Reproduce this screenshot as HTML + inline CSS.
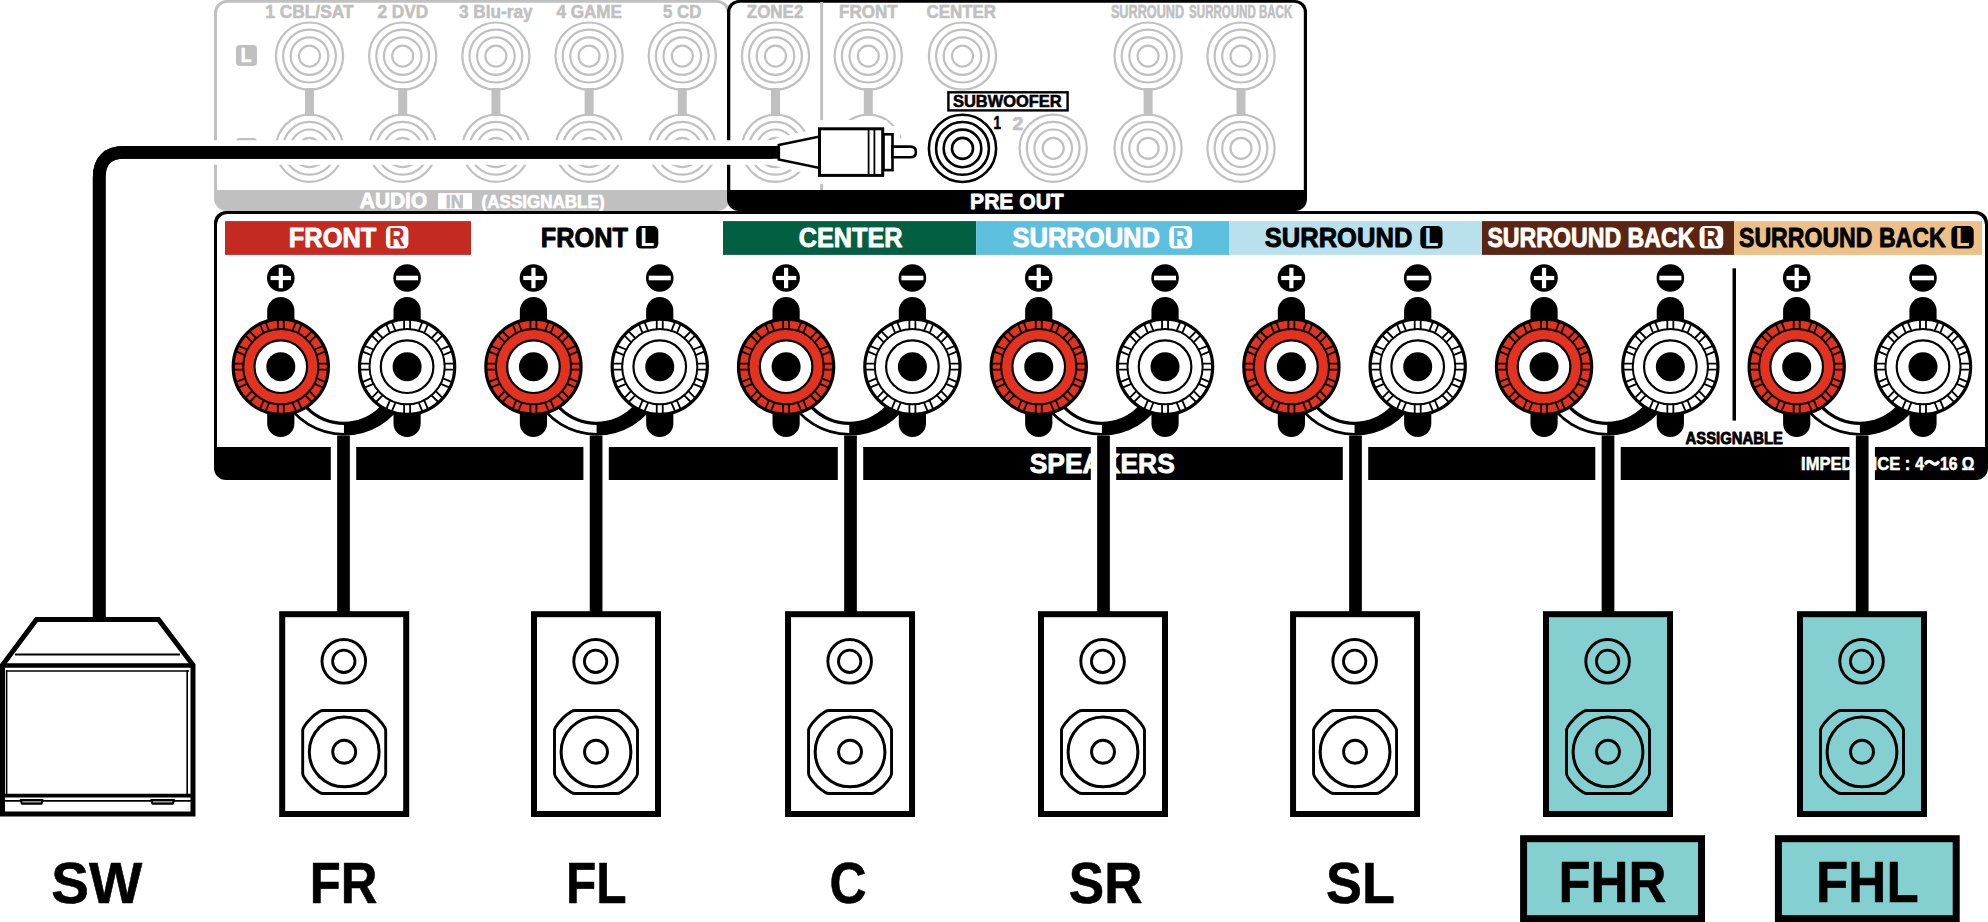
<!DOCTYPE html>
<html><head><meta charset="utf-8"><style>
html,body{margin:0;padding:0;background:#fff;}
body{width:1988px;height:922px;overflow:hidden;}
svg{display:block;}
</style></head><body>
<svg width="1988" height="922" viewBox="0 0 1988 922">
<rect x="214" y="0" width="516" height="211" rx="13" fill="#c0c0c0"/>
<path d="M217,190 V13.2 A10.5,10.5 0 0 1 227.5,2.7 H716.5 A10.5,10.5 0 0 1 727,13.2 V190 Z" fill="#fff"/>
<rect x="305.0" y="88" width="9" height="28" fill="#c0c0c0"/>
<circle cx="309.5" cy="56.1" r="33.6" fill="none" stroke="#c0c0c0" stroke-width="2.2"/>
<circle cx="309.5" cy="56.1" r="26.4" fill="none" stroke="#c0c0c0" stroke-width="2.2"/>
<circle cx="309.5" cy="56.1" r="18.8" fill="none" stroke="#c0c0c0" stroke-width="2.2"/>
<circle cx="309.5" cy="56.1" r="10.5" fill="none" stroke="#c0c0c0" stroke-width="2.2"/>
<circle cx="309.5" cy="148.3" r="33.6" fill="none" stroke="#c0c0c0" stroke-width="2.2"/>
<circle cx="309.5" cy="148.3" r="26.4" fill="none" stroke="#c0c0c0" stroke-width="2.2"/>
<circle cx="309.5" cy="148.3" r="18.8" fill="none" stroke="#c0c0c0" stroke-width="2.2"/>
<circle cx="309.5" cy="148.3" r="10.5" fill="none" stroke="#c0c0c0" stroke-width="2.2"/>
<rect x="398.2" y="88" width="9" height="28" fill="#c0c0c0"/>
<circle cx="402.7" cy="56.1" r="33.6" fill="none" stroke="#c0c0c0" stroke-width="2.2"/>
<circle cx="402.7" cy="56.1" r="26.4" fill="none" stroke="#c0c0c0" stroke-width="2.2"/>
<circle cx="402.7" cy="56.1" r="18.8" fill="none" stroke="#c0c0c0" stroke-width="2.2"/>
<circle cx="402.7" cy="56.1" r="10.5" fill="none" stroke="#c0c0c0" stroke-width="2.2"/>
<circle cx="402.7" cy="148.3" r="33.6" fill="none" stroke="#c0c0c0" stroke-width="2.2"/>
<circle cx="402.7" cy="148.3" r="26.4" fill="none" stroke="#c0c0c0" stroke-width="2.2"/>
<circle cx="402.7" cy="148.3" r="18.8" fill="none" stroke="#c0c0c0" stroke-width="2.2"/>
<circle cx="402.7" cy="148.3" r="10.5" fill="none" stroke="#c0c0c0" stroke-width="2.2"/>
<rect x="491.4" y="88" width="9" height="28" fill="#c0c0c0"/>
<circle cx="495.9" cy="56.1" r="33.6" fill="none" stroke="#c0c0c0" stroke-width="2.2"/>
<circle cx="495.9" cy="56.1" r="26.4" fill="none" stroke="#c0c0c0" stroke-width="2.2"/>
<circle cx="495.9" cy="56.1" r="18.8" fill="none" stroke="#c0c0c0" stroke-width="2.2"/>
<circle cx="495.9" cy="56.1" r="10.5" fill="none" stroke="#c0c0c0" stroke-width="2.2"/>
<circle cx="495.9" cy="148.3" r="33.6" fill="none" stroke="#c0c0c0" stroke-width="2.2"/>
<circle cx="495.9" cy="148.3" r="26.4" fill="none" stroke="#c0c0c0" stroke-width="2.2"/>
<circle cx="495.9" cy="148.3" r="18.8" fill="none" stroke="#c0c0c0" stroke-width="2.2"/>
<circle cx="495.9" cy="148.3" r="10.5" fill="none" stroke="#c0c0c0" stroke-width="2.2"/>
<rect x="584.6" y="88" width="9" height="28" fill="#c0c0c0"/>
<circle cx="589.1" cy="56.1" r="33.6" fill="none" stroke="#c0c0c0" stroke-width="2.2"/>
<circle cx="589.1" cy="56.1" r="26.4" fill="none" stroke="#c0c0c0" stroke-width="2.2"/>
<circle cx="589.1" cy="56.1" r="18.8" fill="none" stroke="#c0c0c0" stroke-width="2.2"/>
<circle cx="589.1" cy="56.1" r="10.5" fill="none" stroke="#c0c0c0" stroke-width="2.2"/>
<circle cx="589.1" cy="148.3" r="33.6" fill="none" stroke="#c0c0c0" stroke-width="2.2"/>
<circle cx="589.1" cy="148.3" r="26.4" fill="none" stroke="#c0c0c0" stroke-width="2.2"/>
<circle cx="589.1" cy="148.3" r="18.8" fill="none" stroke="#c0c0c0" stroke-width="2.2"/>
<circle cx="589.1" cy="148.3" r="10.5" fill="none" stroke="#c0c0c0" stroke-width="2.2"/>
<rect x="677.8" y="88" width="9" height="28" fill="#c0c0c0"/>
<circle cx="682.3" cy="56.1" r="33.6" fill="none" stroke="#c0c0c0" stroke-width="2.2"/>
<circle cx="682.3" cy="56.1" r="26.4" fill="none" stroke="#c0c0c0" stroke-width="2.2"/>
<circle cx="682.3" cy="56.1" r="18.8" fill="none" stroke="#c0c0c0" stroke-width="2.2"/>
<circle cx="682.3" cy="56.1" r="10.5" fill="none" stroke="#c0c0c0" stroke-width="2.2"/>
<circle cx="682.3" cy="148.3" r="33.6" fill="none" stroke="#c0c0c0" stroke-width="2.2"/>
<circle cx="682.3" cy="148.3" r="26.4" fill="none" stroke="#c0c0c0" stroke-width="2.2"/>
<circle cx="682.3" cy="148.3" r="18.8" fill="none" stroke="#c0c0c0" stroke-width="2.2"/>
<circle cx="682.3" cy="148.3" r="10.5" fill="none" stroke="#c0c0c0" stroke-width="2.2"/>
<text x="265.22" y="17.60" font-size="18.84" fill="#c0c0c0" stroke="#c0c0c0" stroke-width="0.6" stroke-linejoin="round" textLength="88.31" lengthAdjust="spacingAndGlyphs" font-family="Liberation Sans, sans-serif" font-weight="bold">1 CBL/SAT</text>
<text x="377.46" y="17.70" font-size="19.13" fill="#c0c0c0" stroke="#c0c0c0" stroke-width="0.6" stroke-linejoin="round" textLength="50.74" lengthAdjust="spacingAndGlyphs" font-family="Liberation Sans, sans-serif" font-weight="bold">2 DVD</text>
<text x="458.93" y="17.70" font-size="19.13" fill="#c0c0c0" stroke="#c0c0c0" stroke-width="0.6" stroke-linejoin="round" textLength="73.66" lengthAdjust="spacingAndGlyphs" font-family="Liberation Sans, sans-serif" font-weight="bold">3 Blu-ray</text>
<text x="556.40" y="17.70" font-size="19.13" fill="#c0c0c0" stroke="#c0c0c0" stroke-width="0.6" stroke-linejoin="round" textLength="65.65" lengthAdjust="spacingAndGlyphs" font-family="Liberation Sans, sans-serif" font-weight="bold">4 GAME</text>
<text x="663.04" y="17.70" font-size="19.13" fill="#c0c0c0" stroke="#c0c0c0" stroke-width="0.6" stroke-linejoin="round" textLength="38.24" lengthAdjust="spacingAndGlyphs" font-family="Liberation Sans, sans-serif" font-weight="bold">5 CD</text>
<rect x="236" y="45" width="21" height="21" rx="4" fill="#c0c0c0"/>
<text x="240.69" y="62.20" font-size="19.42" fill="#fff" stroke="#fff" stroke-width="0.6" stroke-linejoin="round" textLength="10.81" lengthAdjust="spacingAndGlyphs" font-family="Liberation Sans, sans-serif" font-weight="bold">L</text>
<rect x="236" y="138" width="21" height="21" rx="4" fill="#c0c0c0"/>
<text x="359.87" y="208.30" font-size="21.16" fill="#fff" stroke="#fff" stroke-width="0.8" stroke-linejoin="round" textLength="67.31" lengthAdjust="spacingAndGlyphs" font-family="Liberation Sans, sans-serif" font-weight="bold">AUDIO</text>
<rect x="438" y="193.1" width="34" height="16" fill="#fff"/>
<text x="445.83" y="207.55" font-size="18.70" fill="#c0c0c0" stroke="#c0c0c0" stroke-width="0.7" stroke-linejoin="round" textLength="17.90" lengthAdjust="spacingAndGlyphs" font-family="Liberation Sans, sans-serif" font-weight="bold">IN</text>
<text x="481.55" y="207.95" font-size="17.83" fill="#fff" stroke="#fff" stroke-width="0.7" stroke-linejoin="round" textLength="123.01" lengthAdjust="spacingAndGlyphs" font-family="Liberation Sans, sans-serif" font-weight="bold">(ASSIGNABLE)</text>
<rect x="727" y="0" width="580" height="211" rx="12" fill="#000"/>
<path d="M730.3,190 V12 A9.3,9.3 0 0 1 739.6,2.7 H1294.5 A9.3,9.3 0 0 1 1303.8,12 V190 Z" fill="#fff"/>
<rect x="820.2" y="2" width="2.9" height="188" fill="#c0c0c0"/>
<rect x="771.0" y="88" width="9" height="28" fill="#c0c0c0"/>
<rect x="863.8" y="88" width="9" height="28" fill="#c0c0c0"/>
<rect x="1143.6" y="88" width="9" height="28" fill="#c0c0c0"/>
<rect x="1236.5" y="88" width="9" height="28" fill="#c0c0c0"/>
<circle cx="775.5" cy="56.1" r="33.6" fill="none" stroke="#c0c0c0" stroke-width="2.2"/>
<circle cx="775.5" cy="56.1" r="26.4" fill="none" stroke="#c0c0c0" stroke-width="2.2"/>
<circle cx="775.5" cy="56.1" r="18.8" fill="none" stroke="#c0c0c0" stroke-width="2.2"/>
<circle cx="775.5" cy="56.1" r="10.5" fill="none" stroke="#c0c0c0" stroke-width="2.2"/>
<circle cx="868.3" cy="56.1" r="33.6" fill="none" stroke="#c0c0c0" stroke-width="2.2"/>
<circle cx="868.3" cy="56.1" r="26.4" fill="none" stroke="#c0c0c0" stroke-width="2.2"/>
<circle cx="868.3" cy="56.1" r="18.8" fill="none" stroke="#c0c0c0" stroke-width="2.2"/>
<circle cx="868.3" cy="56.1" r="10.5" fill="none" stroke="#c0c0c0" stroke-width="2.2"/>
<circle cx="962.5" cy="56.1" r="33.6" fill="none" stroke="#c0c0c0" stroke-width="2.2"/>
<circle cx="962.5" cy="56.1" r="26.4" fill="none" stroke="#c0c0c0" stroke-width="2.2"/>
<circle cx="962.5" cy="56.1" r="18.8" fill="none" stroke="#c0c0c0" stroke-width="2.2"/>
<circle cx="962.5" cy="56.1" r="10.5" fill="none" stroke="#c0c0c0" stroke-width="2.2"/>
<circle cx="1148.1" cy="56.1" r="33.6" fill="none" stroke="#c0c0c0" stroke-width="2.2"/>
<circle cx="1148.1" cy="56.1" r="26.4" fill="none" stroke="#c0c0c0" stroke-width="2.2"/>
<circle cx="1148.1" cy="56.1" r="18.8" fill="none" stroke="#c0c0c0" stroke-width="2.2"/>
<circle cx="1148.1" cy="56.1" r="10.5" fill="none" stroke="#c0c0c0" stroke-width="2.2"/>
<circle cx="1241" cy="56.1" r="33.6" fill="none" stroke="#c0c0c0" stroke-width="2.2"/>
<circle cx="1241" cy="56.1" r="26.4" fill="none" stroke="#c0c0c0" stroke-width="2.2"/>
<circle cx="1241" cy="56.1" r="18.8" fill="none" stroke="#c0c0c0" stroke-width="2.2"/>
<circle cx="1241" cy="56.1" r="10.5" fill="none" stroke="#c0c0c0" stroke-width="2.2"/>
<circle cx="775.5" cy="148.3" r="33.6" fill="none" stroke="#c0c0c0" stroke-width="2.2"/>
<circle cx="775.5" cy="148.3" r="26.4" fill="none" stroke="#c0c0c0" stroke-width="2.2"/>
<circle cx="775.5" cy="148.3" r="18.8" fill="none" stroke="#c0c0c0" stroke-width="2.2"/>
<circle cx="775.5" cy="148.3" r="10.5" fill="none" stroke="#c0c0c0" stroke-width="2.2"/>
<circle cx="868.3" cy="148.3" r="33.6" fill="none" stroke="#c0c0c0" stroke-width="2.2"/>
<circle cx="868.3" cy="148.3" r="26.4" fill="none" stroke="#c0c0c0" stroke-width="2.2"/>
<circle cx="868.3" cy="148.3" r="18.8" fill="none" stroke="#c0c0c0" stroke-width="2.2"/>
<circle cx="868.3" cy="148.3" r="10.5" fill="none" stroke="#c0c0c0" stroke-width="2.2"/>
<circle cx="1053.2" cy="148.3" r="33.6" fill="none" stroke="#c0c0c0" stroke-width="2.2"/>
<circle cx="1053.2" cy="148.3" r="26.4" fill="none" stroke="#c0c0c0" stroke-width="2.2"/>
<circle cx="1053.2" cy="148.3" r="18.8" fill="none" stroke="#c0c0c0" stroke-width="2.2"/>
<circle cx="1053.2" cy="148.3" r="10.5" fill="none" stroke="#c0c0c0" stroke-width="2.2"/>
<circle cx="1148.1" cy="148.3" r="33.6" fill="none" stroke="#c0c0c0" stroke-width="2.2"/>
<circle cx="1148.1" cy="148.3" r="26.4" fill="none" stroke="#c0c0c0" stroke-width="2.2"/>
<circle cx="1148.1" cy="148.3" r="18.8" fill="none" stroke="#c0c0c0" stroke-width="2.2"/>
<circle cx="1148.1" cy="148.3" r="10.5" fill="none" stroke="#c0c0c0" stroke-width="2.2"/>
<circle cx="1241" cy="148.3" r="33.6" fill="none" stroke="#c0c0c0" stroke-width="2.2"/>
<circle cx="1241" cy="148.3" r="26.4" fill="none" stroke="#c0c0c0" stroke-width="2.2"/>
<circle cx="1241" cy="148.3" r="18.8" fill="none" stroke="#c0c0c0" stroke-width="2.2"/>
<circle cx="1241" cy="148.3" r="10.5" fill="none" stroke="#c0c0c0" stroke-width="2.2"/>
<text x="746.84" y="17.70" font-size="18.55" fill="#c0c0c0" stroke="#c0c0c0" stroke-width="0.6" stroke-linejoin="round" textLength="56.49" lengthAdjust="spacingAndGlyphs" font-family="Liberation Sans, sans-serif" font-weight="bold">ZONE2</text>
<text x="839.04" y="17.70" font-size="18.55" fill="#c0c0c0" stroke="#c0c0c0" stroke-width="0.6" stroke-linejoin="round" textLength="58.49" lengthAdjust="spacingAndGlyphs" font-family="Liberation Sans, sans-serif" font-weight="bold">FRONT</text>
<text x="926.47" y="17.70" font-size="18.55" fill="#c0c0c0" stroke="#c0c0c0" stroke-width="0.6" stroke-linejoin="round" textLength="69.55" lengthAdjust="spacingAndGlyphs" font-family="Liberation Sans, sans-serif" font-weight="bold">CENTER</text>
<text x="1110.90" y="17.60" font-size="17.54" fill="#c0c0c0" stroke="#c0c0c0" stroke-width="0.6" stroke-linejoin="round" textLength="73.24" lengthAdjust="spacingAndGlyphs" font-family="Liberation Sans, sans-serif" font-weight="bold">SURROUND</text>
<text x="1189.12" y="17.60" font-size="17.54" fill="#c0c0c0" stroke="#c0c0c0" stroke-width="0.6" stroke-linejoin="round" textLength="103.12" lengthAdjust="spacingAndGlyphs" font-family="Liberation Sans, sans-serif" font-weight="bold">SURROUND BACK</text>
<rect x="948.4" y="92.3" width="119.2" height="18.1" fill="#fff" stroke="#000" stroke-width="2.4"/>
<text x="953.04" y="107.00" font-size="16.96" fill="#000" stroke="#000" stroke-width="0.6" stroke-linejoin="round" textLength="108.67" lengthAdjust="spacingAndGlyphs" font-family="Liberation Sans, sans-serif" font-weight="bold">SUBWOOFER</text>
<text x="993.46" y="129.30" font-size="18.26" fill="#000" stroke="#000" stroke-width="0.6" stroke-linejoin="round" textLength="7.47" lengthAdjust="spacingAndGlyphs" font-family="Liberation Sans, sans-serif" font-weight="bold">1</text>
<text x="1012.59" y="129.50" font-size="17.97" fill="#c0c0c0" stroke="#c0c0c0" stroke-width="0.6" stroke-linejoin="round" textLength="10.90" lengthAdjust="spacingAndGlyphs" font-family="Liberation Sans, sans-serif" font-weight="bold">2</text>
<text x="970.08" y="208.50" font-size="21.59" fill="#fff" stroke="#fff" stroke-width="0.8" stroke-linejoin="round" textLength="93.65" lengthAdjust="spacingAndGlyphs" font-family="Liberation Sans, sans-serif" font-weight="bold">PRE OUT</text>
<path d="M99.2,640 V177.4 Q99.2,152.4 124.2,152.4 H790" fill="none" stroke="#fff" stroke-width="24.5"/>
<path d="M99.2,640 V177.4 Q99.2,152.4 124.2,152.4 H790" fill="none" stroke="#000" stroke-width="12.7"/>
<path d="M777.6,143 L818,133.5 V125 H884 V131 H895 V143.5 H912 Q921,143.5 921,152 Q921,160.5 912,160.5 H895 V173 H884 V179 H818 V171 L777.6,161.5 Z" fill="#fff" stroke="#fff" stroke-width="10" stroke-linejoin="round"/>
<path d="M99.2,640 V177.4 Q99.2,152.4 124.2,152.4 H790" fill="none" stroke="#000" stroke-width="12.7"/>
<path d="M778.8,145 L819.5,136.5 V168 L778.8,159.5 Z" fill="#fff" stroke="#000" stroke-width="2.6" stroke-linejoin="miter"/>
<rect x="883.5" y="134.3" width="9" height="35.8" fill="#fff" stroke="#000" stroke-width="2.6"/>
<path d="M892.5,146.6 H910.5 Q915.9,146.6 915.9,151.9 Q915.9,157.2 910.5,157.2 H892.5 Z" fill="#fff" stroke="#000" stroke-width="2.6"/>
<rect x="819.5" y="128.8" width="63.2" height="46.6" fill="#fff" stroke="#000" stroke-width="3"/>
<line x1="868.6" y1="128.8" x2="868.6" y2="175.4" stroke="#000" stroke-width="1.8"/>
<line x1="874.4" y1="128.8" x2="874.4" y2="175.4" stroke="#000" stroke-width="1.8"/>
<circle cx="962.5" cy="148.4" r="33.6" fill="none" stroke="#000" stroke-width="2.6"/>
<circle cx="962.5" cy="148.4" r="26.4" fill="none" stroke="#000" stroke-width="2.6"/>
<circle cx="962.5" cy="148.4" r="18.8" fill="none" stroke="#000" stroke-width="2.6"/>
<circle cx="962.5" cy="148.4" r="10.5" fill="none" stroke="#000" stroke-width="2.6"/>
<rect x="214" y="211" width="1774" height="269" rx="12" fill="#000"/>
<path d="M217,447 V224.5 A10.5,10.5 0 0 1 227.5,214 H1974.5 A10.5,10.5 0 0 1 1985,224.5 V447 Z" fill="#fff"/>
<rect x="225" y="221.1" width="246" height="33.8" fill="#c42a21"/>
<rect x="723" y="221.1" width="253.20000000000005" height="33.8" fill="#035f42"/>
<rect x="976.2" y="221.1" width="252.79999999999995" height="33.8" fill="#5bbfdd"/>
<rect x="1229" y="221.1" width="253" height="33.8" fill="#b9e1ed"/>
<rect x="1482" y="221.1" width="252" height="33.8" fill="#5a2613"/>
<rect x="1734" y="221.1" width="248" height="33.8" fill="#edc08a"/>
<text x="288.86" y="246.85" font-size="27.25" fill="#fff" stroke="#fff" stroke-width="0.9" stroke-linejoin="round" textLength="87.42" lengthAdjust="spacingAndGlyphs" font-family="Liberation Sans, sans-serif" font-weight="bold">FRONT</text>
<rect x="385.9" y="226.1" width="22.5" height="22.5" rx="5" fill="#fff"/>
<text x="389.10" y="245.90" font-size="25.65" fill="#c42a21" stroke="#c42a21" stroke-width="0.2" stroke-linejoin="round" textLength="15.56" lengthAdjust="spacingAndGlyphs" font-family="Liberation Sans, sans-serif" font-weight="bold">R</text>
<text x="540.77" y="246.85" font-size="27.25" fill="#000" stroke="#000" stroke-width="0.9" stroke-linejoin="round" textLength="87.22" lengthAdjust="spacingAndGlyphs" font-family="Liberation Sans, sans-serif" font-weight="bold">FRONT</text>
<rect x="636.2" y="226.1" width="22.09999999999991" height="22.5" rx="5" fill="#000"/>
<text x="640.55" y="245.90" font-size="25.65" fill="#fff" stroke="#fff" stroke-width="0.2" stroke-linejoin="round" textLength="13.68" lengthAdjust="spacingAndGlyphs" font-family="Liberation Sans, sans-serif" font-weight="bold">L</text>
<text x="798.76" y="246.85" font-size="27.25" fill="#fff" stroke="#fff" stroke-width="0.9" stroke-linejoin="round" textLength="103.77" lengthAdjust="spacingAndGlyphs" font-family="Liberation Sans, sans-serif" font-weight="bold">CENTER</text>
<text x="1012.45" y="246.85" font-size="27.25" fill="#fff" stroke="#fff" stroke-width="0.9" stroke-linejoin="round" textLength="147.58" lengthAdjust="spacingAndGlyphs" font-family="Liberation Sans, sans-serif" font-weight="bold">SURROUND</text>
<rect x="1169.2" y="226.1" width="22.899999999999864" height="22.5" rx="5" fill="#fff"/>
<text x="1172.60" y="245.90" font-size="25.65" fill="#5bbfdd" stroke="#5bbfdd" stroke-width="0.2" stroke-linejoin="round" textLength="15.56" lengthAdjust="spacingAndGlyphs" font-family="Liberation Sans, sans-serif" font-weight="bold">R</text>
<text x="1264.75" y="246.85" font-size="27.25" fill="#000" stroke="#000" stroke-width="0.9" stroke-linejoin="round" textLength="147.58" lengthAdjust="spacingAndGlyphs" font-family="Liberation Sans, sans-serif" font-weight="bold">SURROUND</text>
<rect x="1420.3" y="226.1" width="22.200000000000045" height="22.5" rx="5" fill="#000"/>
<text x="1424.70" y="245.90" font-size="25.65" fill="#b9e1ed" stroke="#b9e1ed" stroke-width="0.2" stroke-linejoin="round" textLength="13.68" lengthAdjust="spacingAndGlyphs" font-family="Liberation Sans, sans-serif" font-weight="bold">L</text>
<text x="1487.39" y="246.85" font-size="27.25" fill="#fff" stroke="#fff" stroke-width="0.9" stroke-linejoin="round" textLength="207.14" lengthAdjust="spacingAndGlyphs" font-family="Liberation Sans, sans-serif" font-weight="bold">SURROUND BACK</text>
<rect x="1699.6" y="226.1" width="23.600000000000136" height="22.5" rx="5" fill="#fff"/>
<text x="1703.35" y="245.90" font-size="25.65" fill="#5a2613" stroke="#5a2613" stroke-width="0.2" stroke-linejoin="round" textLength="15.56" lengthAdjust="spacingAndGlyphs" font-family="Liberation Sans, sans-serif" font-weight="bold">R</text>
<text x="1738.99" y="246.85" font-size="27.25" fill="#000" stroke="#000" stroke-width="0.9" stroke-linejoin="round" textLength="206.64" lengthAdjust="spacingAndGlyphs" font-family="Liberation Sans, sans-serif" font-weight="bold">SURROUND BACK</text>
<rect x="1951.4" y="226.1" width="22.299999999999955" height="22.5" rx="5" fill="#000"/>
<text x="1955.85" y="245.90" font-size="25.65" fill="#edc08a" stroke="#edc08a" stroke-width="0.2" stroke-linejoin="round" textLength="13.68" lengthAdjust="spacingAndGlyphs" font-family="Liberation Sans, sans-serif" font-weight="bold">L</text>
<text x="1029.74" y="472.85" font-size="27.83" fill="#fff" stroke="#fff" stroke-width="0.9" stroke-linejoin="round" textLength="145.01" lengthAdjust="spacingAndGlyphs" font-family="Liberation Sans, sans-serif" font-weight="bold">SPEAKERS</text>
<text x="1801.07" y="469.50" font-size="18.70" fill="#fff" stroke="#fff" stroke-width="0.6" stroke-linejoin="round" textLength="109.20" lengthAdjust="spacingAndGlyphs" font-family="Liberation Sans, sans-serif" font-weight="bold">IMPEDANCE :</text>
<text x="1915.30" y="469.50" font-size="18.70" fill="#fff" stroke="#fff" stroke-width="0.6" stroke-linejoin="round" textLength="58.97" lengthAdjust="spacingAndGlyphs" font-family="Liberation Sans, sans-serif" font-weight="bold">4〜16 Ω</text>
<rect x="330.8" y="440" width="25.4" height="45" fill="#fff"/>
<rect x="583.4" y="440" width="25.4" height="45" fill="#fff"/>
<rect x="837.8" y="440" width="25.4" height="45" fill="#fff"/>
<rect x="1090.8" y="440" width="25.4" height="45" fill="#fff"/>
<rect x="1342.8" y="440" width="25.4" height="45" fill="#fff"/>
<rect x="1595.3" y="440" width="25.4" height="45" fill="#fff"/>
<rect x="1849.5" y="440" width="25.4" height="45" fill="#fff"/>
<rect x="1732.5" y="268.3" width="3.5" height="152.3" fill="#000"/>
<text x="1685.59" y="444.27" font-size="17.17" fill="#000" stroke="#000" stroke-width="0.85" stroke-linejoin="round" textLength="97.37" lengthAdjust="spacingAndGlyphs" font-family="Liberation Sans, sans-serif" font-weight="bold">ASSIGNABLE</text>
<path d="M281.95,398.10 A70.0,70.0 0 0 0 405.95,398.10 L393.95,371.80 A50.0,50.0 0 0 1 293.95,371.80 Z" fill="#000"/>
<path d="M343.95,432.90 A67.3,67.3 0 0 1 283.95,396.08 L290.75,371.80 A53.2,53.2 0 0 0 343.95,425.00 Z" fill="#fff"/>
<rect x="267.2" y="297" width="27.2" height="140" rx="13.6" fill="#000"/>
<circle cx="280.8" cy="366.7" r="47.6" fill="#e3321f" stroke="#000" stroke-width="3.2"/>
<path d="M318.40,363.70L328.80,363.70M318.40,369.70L328.80,369.70M316.69,378.32L326.29,382.30M314.39,383.86L324.00,387.84M309.51,391.17L316.86,398.52M305.27,395.41L312.62,402.76M297.96,400.29L301.94,409.90M292.42,402.59L296.40,412.19M283.80,404.30L283.80,414.70M277.80,404.30L277.80,414.70M269.18,402.59L265.20,412.19M263.64,400.29L259.66,409.90M256.33,395.41L248.98,402.76M252.09,391.17L244.74,398.52M247.21,383.86L237.60,387.84M244.91,378.32L235.31,382.30M243.20,369.70L232.80,369.70M243.20,363.70L232.80,363.70M244.91,355.08L235.31,351.10M247.21,349.54L237.60,345.56M252.09,342.23L244.74,334.88M256.33,337.99L248.98,330.64M263.64,333.11L259.66,323.50M269.18,330.81L265.20,321.21M277.80,329.10L277.80,318.70M283.80,329.10L283.80,318.70M292.42,330.81L296.40,321.21M297.96,333.11L301.94,323.50M305.27,337.99L312.62,330.64M309.51,342.23L316.86,334.88M314.39,349.54L324.00,345.56M316.69,355.08L326.29,351.10" stroke="#000" stroke-width="1.8" fill="none"/>
<circle cx="280.8" cy="366.7" r="37.6" fill="#e3321f" stroke="#000" stroke-width="2.0"/>
<circle cx="280.8" cy="366.7" r="26.3" fill="#fff" stroke="#000" stroke-width="2.2"/>
<circle cx="280.8" cy="366.7" r="14.5" fill="#000"/>
<rect x="393.5" y="297" width="27.2" height="140" rx="13.6" fill="#000"/>
<circle cx="407.1" cy="366.7" r="47.6" fill="#fff" stroke="#000" stroke-width="3.2"/>
<path d="M444.70,363.70L455.10,363.70M444.70,369.70L455.10,369.70M442.99,378.32L452.59,382.30M440.69,383.86L450.30,387.84M435.81,391.17L443.16,398.52M431.57,395.41L438.92,402.76M424.26,400.29L428.24,409.90M418.72,402.59L422.70,412.19M410.10,404.30L410.10,414.70M404.10,404.30L404.10,414.70M395.48,402.59L391.50,412.19M389.94,400.29L385.96,409.90M382.63,395.41L375.28,402.76M378.39,391.17L371.04,398.52M373.51,383.86L363.90,387.84M371.21,378.32L361.61,382.30M369.50,369.70L359.10,369.70M369.50,363.70L359.10,363.70M371.21,355.08L361.61,351.10M373.51,349.54L363.90,345.56M378.39,342.23L371.04,334.88M382.63,337.99L375.28,330.64M389.94,333.11L385.96,323.50M395.48,330.81L391.50,321.21M404.10,329.10L404.10,318.70M410.10,329.10L410.10,318.70M418.72,330.81L422.70,321.21M424.26,333.11L428.24,323.50M431.57,337.99L438.92,330.64M435.81,342.23L443.16,334.88M440.69,349.54L450.30,345.56M442.99,355.08L452.59,351.10" stroke="#000" stroke-width="1.8" fill="none"/>
<circle cx="407.1" cy="366.7" r="37.6" fill="#fff" stroke="#000" stroke-width="2.0"/>
<circle cx="407.1" cy="366.7" r="26.3" fill="#fff" stroke="#000" stroke-width="2.2"/>
<circle cx="407.1" cy="366.7" r="14.5" fill="#000"/>
<circle cx="280.8" cy="278" r="13.8" fill="#000"/>
<rect x="270.6" y="275.9" width="20.4" height="4.2" fill="#fff"/><rect x="278.7" y="267.8" width="4.2" height="20.4" fill="#fff"/>
<circle cx="407.1" cy="278" r="13.8" fill="#000"/>
<rect x="396.1" y="275.7" width="22" height="4.6" fill="#fff"/>
<rect x="337.15" y="435.5" width="12.7" height="180" fill="#000"/>
<path d="M534.60,398.10 A70.0,70.0 0 0 0 658.60,398.10 L646.60,371.80 A50.0,50.0 0 0 1 546.60,371.80 Z" fill="#000"/>
<path d="M596.60,432.90 A67.3,67.3 0 0 1 536.60,396.08 L543.40,371.80 A53.2,53.2 0 0 0 596.60,425.00 Z" fill="#fff"/>
<rect x="519.85" y="297" width="27.2" height="140" rx="13.6" fill="#000"/>
<circle cx="533.45" cy="366.7" r="47.6" fill="#e3321f" stroke="#000" stroke-width="3.2"/>
<path d="M571.05,363.70L581.45,363.70M571.05,369.70L581.45,369.70M569.34,378.32L578.94,382.30M567.04,383.86L576.65,387.84M562.16,391.17L569.51,398.52M557.92,395.41L565.27,402.76M550.61,400.29L554.59,409.90M545.07,402.59L549.05,412.19M536.45,404.30L536.45,414.70M530.45,404.30L530.45,414.70M521.83,402.59L517.85,412.19M516.29,400.29L512.31,409.90M508.98,395.41L501.63,402.76M504.74,391.17L497.39,398.52M499.86,383.86L490.25,387.84M497.56,378.32L487.96,382.30M495.85,369.70L485.45,369.70M495.85,363.70L485.45,363.70M497.56,355.08L487.96,351.10M499.86,349.54L490.25,345.56M504.74,342.23L497.39,334.88M508.98,337.99L501.63,330.64M516.29,333.11L512.31,323.50M521.83,330.81L517.85,321.21M530.45,329.10L530.45,318.70M536.45,329.10L536.45,318.70M545.07,330.81L549.05,321.21M550.61,333.11L554.59,323.50M557.92,337.99L565.27,330.64M562.16,342.23L569.51,334.88M567.04,349.54L576.65,345.56M569.34,355.08L578.94,351.10" stroke="#000" stroke-width="1.8" fill="none"/>
<circle cx="533.45" cy="366.7" r="37.6" fill="#e3321f" stroke="#000" stroke-width="2.0"/>
<circle cx="533.45" cy="366.7" r="26.3" fill="#fff" stroke="#000" stroke-width="2.2"/>
<circle cx="533.45" cy="366.7" r="14.5" fill="#000"/>
<rect x="646.15" y="297" width="27.2" height="140" rx="13.6" fill="#000"/>
<circle cx="659.75" cy="366.7" r="47.6" fill="#fff" stroke="#000" stroke-width="3.2"/>
<path d="M697.35,363.70L707.75,363.70M697.35,369.70L707.75,369.70M695.64,378.32L705.24,382.30M693.34,383.86L702.95,387.84M688.46,391.17L695.81,398.52M684.22,395.41L691.57,402.76M676.91,400.29L680.89,409.90M671.37,402.59L675.35,412.19M662.75,404.30L662.75,414.70M656.75,404.30L656.75,414.70M648.13,402.59L644.15,412.19M642.59,400.29L638.61,409.90M635.28,395.41L627.93,402.76M631.04,391.17L623.69,398.52M626.16,383.86L616.55,387.84M623.86,378.32L614.26,382.30M622.15,369.70L611.75,369.70M622.15,363.70L611.75,363.70M623.86,355.08L614.26,351.10M626.16,349.54L616.55,345.56M631.04,342.23L623.69,334.88M635.28,337.99L627.93,330.64M642.59,333.11L638.61,323.50M648.13,330.81L644.15,321.21M656.75,329.10L656.75,318.70M662.75,329.10L662.75,318.70M671.37,330.81L675.35,321.21M676.91,333.11L680.89,323.50M684.22,337.99L691.57,330.64M688.46,342.23L695.81,334.88M693.34,349.54L702.95,345.56M695.64,355.08L705.24,351.10" stroke="#000" stroke-width="1.8" fill="none"/>
<circle cx="659.75" cy="366.7" r="37.6" fill="#fff" stroke="#000" stroke-width="2.0"/>
<circle cx="659.75" cy="366.7" r="26.3" fill="#fff" stroke="#000" stroke-width="2.2"/>
<circle cx="659.75" cy="366.7" r="14.5" fill="#000"/>
<circle cx="533.45" cy="278" r="13.8" fill="#000"/>
<rect x="523.25" y="275.9" width="20.4" height="4.2" fill="#fff"/><rect x="531.35" y="267.8" width="4.2" height="20.4" fill="#fff"/>
<circle cx="659.75" cy="278" r="13.8" fill="#000"/>
<rect x="648.75" y="275.7" width="22" height="4.6" fill="#fff"/>
<rect x="589.75" y="435.5" width="12.7" height="180" fill="#000"/>
<path d="M787.25,398.10 A70.0,70.0 0 0 0 911.25,398.10 L899.25,371.80 A50.0,50.0 0 0 1 799.25,371.80 Z" fill="#000"/>
<path d="M849.25,432.90 A67.3,67.3 0 0 1 789.25,396.08 L796.05,371.80 A53.2,53.2 0 0 0 849.25,425.00 Z" fill="#fff"/>
<rect x="772.5" y="297" width="27.2" height="140" rx="13.6" fill="#000"/>
<circle cx="786.1" cy="366.7" r="47.6" fill="#e3321f" stroke="#000" stroke-width="3.2"/>
<path d="M823.70,363.70L834.10,363.70M823.70,369.70L834.10,369.70M821.99,378.32L831.59,382.30M819.69,383.86L829.30,387.84M814.81,391.17L822.16,398.52M810.57,395.41L817.92,402.76M803.26,400.29L807.24,409.90M797.72,402.59L801.70,412.19M789.10,404.30L789.10,414.70M783.10,404.30L783.10,414.70M774.48,402.59L770.50,412.19M768.94,400.29L764.96,409.90M761.63,395.41L754.28,402.76M757.39,391.17L750.04,398.52M752.51,383.86L742.90,387.84M750.21,378.32L740.61,382.30M748.50,369.70L738.10,369.70M748.50,363.70L738.10,363.70M750.21,355.08L740.61,351.10M752.51,349.54L742.90,345.56M757.39,342.23L750.04,334.88M761.63,337.99L754.28,330.64M768.94,333.11L764.96,323.50M774.48,330.81L770.50,321.21M783.10,329.10L783.10,318.70M789.10,329.10L789.10,318.70M797.72,330.81L801.70,321.21M803.26,333.11L807.24,323.50M810.57,337.99L817.92,330.64M814.81,342.23L822.16,334.88M819.69,349.54L829.30,345.56M821.99,355.08L831.59,351.10" stroke="#000" stroke-width="1.8" fill="none"/>
<circle cx="786.1" cy="366.7" r="37.6" fill="#e3321f" stroke="#000" stroke-width="2.0"/>
<circle cx="786.1" cy="366.7" r="26.3" fill="#fff" stroke="#000" stroke-width="2.2"/>
<circle cx="786.1" cy="366.7" r="14.5" fill="#000"/>
<rect x="898.8000000000001" y="297" width="27.2" height="140" rx="13.6" fill="#000"/>
<circle cx="912.4000000000001" cy="366.7" r="47.6" fill="#fff" stroke="#000" stroke-width="3.2"/>
<path d="M950.00,363.70L960.40,363.70M950.00,369.70L960.40,369.70M948.29,378.32L957.89,382.30M945.99,383.86L955.60,387.84M941.11,391.17L948.46,398.52M936.87,395.41L944.22,402.76M929.56,400.29L933.54,409.90M924.02,402.59L928.00,412.19M915.40,404.30L915.40,414.70M909.40,404.30L909.40,414.70M900.78,402.59L896.80,412.19M895.24,400.29L891.26,409.90M887.93,395.41L880.58,402.76M883.69,391.17L876.34,398.52M878.81,383.86L869.20,387.84M876.51,378.32L866.91,382.30M874.80,369.70L864.40,369.70M874.80,363.70L864.40,363.70M876.51,355.08L866.91,351.10M878.81,349.54L869.20,345.56M883.69,342.23L876.34,334.88M887.93,337.99L880.58,330.64M895.24,333.11L891.26,323.50M900.78,330.81L896.80,321.21M909.40,329.10L909.40,318.70M915.40,329.10L915.40,318.70M924.02,330.81L928.00,321.21M929.56,333.11L933.54,323.50M936.87,337.99L944.22,330.64M941.11,342.23L948.46,334.88M945.99,349.54L955.60,345.56M948.29,355.08L957.89,351.10" stroke="#000" stroke-width="1.8" fill="none"/>
<circle cx="912.4000000000001" cy="366.7" r="37.6" fill="#fff" stroke="#000" stroke-width="2.0"/>
<circle cx="912.4000000000001" cy="366.7" r="26.3" fill="#fff" stroke="#000" stroke-width="2.2"/>
<circle cx="912.4000000000001" cy="366.7" r="14.5" fill="#000"/>
<circle cx="786.1" cy="278" r="13.8" fill="#000"/>
<rect x="775.9" y="275.9" width="20.4" height="4.2" fill="#fff"/><rect x="784.0" y="267.8" width="4.2" height="20.4" fill="#fff"/>
<circle cx="912.4000000000001" cy="278" r="13.8" fill="#000"/>
<rect x="901.4000000000001" y="275.7" width="22" height="4.6" fill="#fff"/>
<rect x="844.15" y="435.5" width="12.7" height="180" fill="#000"/>
<path d="M1039.90,398.10 A70.0,70.0 0 0 0 1163.90,398.10 L1151.90,371.80 A50.0,50.0 0 0 1 1051.90,371.80 Z" fill="#000"/>
<path d="M1101.90,432.90 A67.3,67.3 0 0 1 1041.90,396.08 L1048.70,371.80 A53.2,53.2 0 0 0 1101.90,425.00 Z" fill="#fff"/>
<rect x="1025.15" y="297" width="27.2" height="140" rx="13.6" fill="#000"/>
<circle cx="1038.75" cy="366.7" r="47.6" fill="#e3321f" stroke="#000" stroke-width="3.2"/>
<path d="M1076.35,363.70L1086.75,363.70M1076.35,369.70L1086.75,369.70M1074.64,378.32L1084.24,382.30M1072.34,383.86L1081.95,387.84M1067.46,391.17L1074.81,398.52M1063.22,395.41L1070.57,402.76M1055.91,400.29L1059.89,409.90M1050.37,402.59L1054.35,412.19M1041.75,404.30L1041.75,414.70M1035.75,404.30L1035.75,414.70M1027.13,402.59L1023.15,412.19M1021.59,400.29L1017.61,409.90M1014.28,395.41L1006.93,402.76M1010.04,391.17L1002.69,398.52M1005.16,383.86L995.55,387.84M1002.86,378.32L993.26,382.30M1001.15,369.70L990.75,369.70M1001.15,363.70L990.75,363.70M1002.86,355.08L993.26,351.10M1005.16,349.54L995.55,345.56M1010.04,342.23L1002.69,334.88M1014.28,337.99L1006.93,330.64M1021.59,333.11L1017.61,323.50M1027.13,330.81L1023.15,321.21M1035.75,329.10L1035.75,318.70M1041.75,329.10L1041.75,318.70M1050.37,330.81L1054.35,321.21M1055.91,333.11L1059.89,323.50M1063.22,337.99L1070.57,330.64M1067.46,342.23L1074.81,334.88M1072.34,349.54L1081.95,345.56M1074.64,355.08L1084.24,351.10" stroke="#000" stroke-width="1.8" fill="none"/>
<circle cx="1038.75" cy="366.7" r="37.6" fill="#e3321f" stroke="#000" stroke-width="2.0"/>
<circle cx="1038.75" cy="366.7" r="26.3" fill="#fff" stroke="#000" stroke-width="2.2"/>
<circle cx="1038.75" cy="366.7" r="14.5" fill="#000"/>
<rect x="1151.4500000000003" y="297" width="27.2" height="140" rx="13.6" fill="#000"/>
<circle cx="1165.0500000000002" cy="366.7" r="47.6" fill="#fff" stroke="#000" stroke-width="3.2"/>
<path d="M1202.65,363.70L1213.05,363.70M1202.65,369.70L1213.05,369.70M1200.94,378.32L1210.54,382.30M1198.64,383.86L1208.25,387.84M1193.76,391.17L1201.11,398.52M1189.52,395.41L1196.87,402.76M1182.21,400.29L1186.19,409.90M1176.67,402.59L1180.65,412.19M1168.05,404.30L1168.05,414.70M1162.05,404.30L1162.05,414.70M1153.43,402.59L1149.45,412.19M1147.89,400.29L1143.91,409.90M1140.58,395.41L1133.23,402.76M1136.34,391.17L1128.99,398.52M1131.46,383.86L1121.85,387.84M1129.16,378.32L1119.56,382.30M1127.45,369.70L1117.05,369.70M1127.45,363.70L1117.05,363.70M1129.16,355.08L1119.56,351.10M1131.46,349.54L1121.85,345.56M1136.34,342.23L1128.99,334.88M1140.58,337.99L1133.23,330.64M1147.89,333.11L1143.91,323.50M1153.43,330.81L1149.45,321.21M1162.05,329.10L1162.05,318.70M1168.05,329.10L1168.05,318.70M1176.67,330.81L1180.65,321.21M1182.21,333.11L1186.19,323.50M1189.52,337.99L1196.87,330.64M1193.76,342.23L1201.11,334.88M1198.64,349.54L1208.25,345.56M1200.94,355.08L1210.54,351.10" stroke="#000" stroke-width="1.8" fill="none"/>
<circle cx="1165.0500000000002" cy="366.7" r="37.6" fill="#fff" stroke="#000" stroke-width="2.0"/>
<circle cx="1165.0500000000002" cy="366.7" r="26.3" fill="#fff" stroke="#000" stroke-width="2.2"/>
<circle cx="1165.0500000000002" cy="366.7" r="14.5" fill="#000"/>
<circle cx="1038.75" cy="278" r="13.8" fill="#000"/>
<rect x="1028.55" y="275.9" width="20.4" height="4.2" fill="#fff"/><rect x="1036.65" y="267.8" width="4.2" height="20.4" fill="#fff"/>
<circle cx="1165.0500000000002" cy="278" r="13.8" fill="#000"/>
<rect x="1154.0500000000002" y="275.7" width="22" height="4.6" fill="#fff"/>
<rect x="1097.15" y="435.5" width="12.7" height="180" fill="#000"/>
<path d="M1292.55,398.10 A70.0,70.0 0 0 0 1416.55,398.10 L1404.55,371.80 A50.0,50.0 0 0 1 1304.55,371.80 Z" fill="#000"/>
<path d="M1354.55,432.90 A67.3,67.3 0 0 1 1294.55,396.08 L1301.35,371.80 A53.2,53.2 0 0 0 1354.55,425.00 Z" fill="#fff"/>
<rect x="1277.8000000000002" y="297" width="27.2" height="140" rx="13.6" fill="#000"/>
<circle cx="1291.4" cy="366.7" r="47.6" fill="#e3321f" stroke="#000" stroke-width="3.2"/>
<path d="M1329.00,363.70L1339.40,363.70M1329.00,369.70L1339.40,369.70M1327.29,378.32L1336.89,382.30M1324.99,383.86L1334.60,387.84M1320.11,391.17L1327.46,398.52M1315.87,395.41L1323.22,402.76M1308.56,400.29L1312.54,409.90M1303.02,402.59L1307.00,412.19M1294.40,404.30L1294.40,414.70M1288.40,404.30L1288.40,414.70M1279.78,402.59L1275.80,412.19M1274.24,400.29L1270.26,409.90M1266.93,395.41L1259.58,402.76M1262.69,391.17L1255.34,398.52M1257.81,383.86L1248.20,387.84M1255.51,378.32L1245.91,382.30M1253.80,369.70L1243.40,369.70M1253.80,363.70L1243.40,363.70M1255.51,355.08L1245.91,351.10M1257.81,349.54L1248.20,345.56M1262.69,342.23L1255.34,334.88M1266.93,337.99L1259.58,330.64M1274.24,333.11L1270.26,323.50M1279.78,330.81L1275.80,321.21M1288.40,329.10L1288.40,318.70M1294.40,329.10L1294.40,318.70M1303.02,330.81L1307.00,321.21M1308.56,333.11L1312.54,323.50M1315.87,337.99L1323.22,330.64M1320.11,342.23L1327.46,334.88M1324.99,349.54L1334.60,345.56M1327.29,355.08L1336.89,351.10" stroke="#000" stroke-width="1.8" fill="none"/>
<circle cx="1291.4" cy="366.7" r="37.6" fill="#e3321f" stroke="#000" stroke-width="2.0"/>
<circle cx="1291.4" cy="366.7" r="26.3" fill="#fff" stroke="#000" stroke-width="2.2"/>
<circle cx="1291.4" cy="366.7" r="14.5" fill="#000"/>
<rect x="1404.1000000000001" y="297" width="27.2" height="140" rx="13.6" fill="#000"/>
<circle cx="1417.7" cy="366.7" r="47.6" fill="#fff" stroke="#000" stroke-width="3.2"/>
<path d="M1455.30,363.70L1465.70,363.70M1455.30,369.70L1465.70,369.70M1453.59,378.32L1463.19,382.30M1451.29,383.86L1460.90,387.84M1446.41,391.17L1453.76,398.52M1442.17,395.41L1449.52,402.76M1434.86,400.29L1438.84,409.90M1429.32,402.59L1433.30,412.19M1420.70,404.30L1420.70,414.70M1414.70,404.30L1414.70,414.70M1406.08,402.59L1402.10,412.19M1400.54,400.29L1396.56,409.90M1393.23,395.41L1385.88,402.76M1388.99,391.17L1381.64,398.52M1384.11,383.86L1374.50,387.84M1381.81,378.32L1372.21,382.30M1380.10,369.70L1369.70,369.70M1380.10,363.70L1369.70,363.70M1381.81,355.08L1372.21,351.10M1384.11,349.54L1374.50,345.56M1388.99,342.23L1381.64,334.88M1393.23,337.99L1385.88,330.64M1400.54,333.11L1396.56,323.50M1406.08,330.81L1402.10,321.21M1414.70,329.10L1414.70,318.70M1420.70,329.10L1420.70,318.70M1429.32,330.81L1433.30,321.21M1434.86,333.11L1438.84,323.50M1442.17,337.99L1449.52,330.64M1446.41,342.23L1453.76,334.88M1451.29,349.54L1460.90,345.56M1453.59,355.08L1463.19,351.10" stroke="#000" stroke-width="1.8" fill="none"/>
<circle cx="1417.7" cy="366.7" r="37.6" fill="#fff" stroke="#000" stroke-width="2.0"/>
<circle cx="1417.7" cy="366.7" r="26.3" fill="#fff" stroke="#000" stroke-width="2.2"/>
<circle cx="1417.7" cy="366.7" r="14.5" fill="#000"/>
<circle cx="1291.4" cy="278" r="13.8" fill="#000"/>
<rect x="1281.2" y="275.9" width="20.4" height="4.2" fill="#fff"/><rect x="1289.3000000000002" y="267.8" width="4.2" height="20.4" fill="#fff"/>
<circle cx="1417.7" cy="278" r="13.8" fill="#000"/>
<rect x="1406.7" y="275.7" width="22" height="4.6" fill="#fff"/>
<rect x="1349.15" y="435.5" width="12.7" height="180" fill="#000"/>
<path d="M1545.20,398.10 A70.0,70.0 0 0 0 1669.20,398.10 L1657.20,371.80 A50.0,50.0 0 0 1 1557.20,371.80 Z" fill="#000"/>
<path d="M1607.20,432.90 A67.3,67.3 0 0 1 1547.20,396.08 L1554.00,371.80 A53.2,53.2 0 0 0 1607.20,425.00 Z" fill="#fff"/>
<rect x="1530.45" y="297" width="27.2" height="140" rx="13.6" fill="#000"/>
<circle cx="1544.05" cy="366.7" r="47.6" fill="#e3321f" stroke="#000" stroke-width="3.2"/>
<path d="M1581.65,363.70L1592.05,363.70M1581.65,369.70L1592.05,369.70M1579.94,378.32L1589.54,382.30M1577.64,383.86L1587.25,387.84M1572.76,391.17L1580.11,398.52M1568.52,395.41L1575.87,402.76M1561.21,400.29L1565.19,409.90M1555.67,402.59L1559.65,412.19M1547.05,404.30L1547.05,414.70M1541.05,404.30L1541.05,414.70M1532.43,402.59L1528.45,412.19M1526.89,400.29L1522.91,409.90M1519.58,395.41L1512.23,402.76M1515.34,391.17L1507.99,398.52M1510.46,383.86L1500.85,387.84M1508.16,378.32L1498.56,382.30M1506.45,369.70L1496.05,369.70M1506.45,363.70L1496.05,363.70M1508.16,355.08L1498.56,351.10M1510.46,349.54L1500.85,345.56M1515.34,342.23L1507.99,334.88M1519.58,337.99L1512.23,330.64M1526.89,333.11L1522.91,323.50M1532.43,330.81L1528.45,321.21M1541.05,329.10L1541.05,318.70M1547.05,329.10L1547.05,318.70M1555.67,330.81L1559.65,321.21M1561.21,333.11L1565.19,323.50M1568.52,337.99L1575.87,330.64M1572.76,342.23L1580.11,334.88M1577.64,349.54L1587.25,345.56M1579.94,355.08L1589.54,351.10" stroke="#000" stroke-width="1.8" fill="none"/>
<circle cx="1544.05" cy="366.7" r="37.6" fill="#e3321f" stroke="#000" stroke-width="2.0"/>
<circle cx="1544.05" cy="366.7" r="26.3" fill="#fff" stroke="#000" stroke-width="2.2"/>
<circle cx="1544.05" cy="366.7" r="14.5" fill="#000"/>
<rect x="1656.75" y="297" width="27.2" height="140" rx="13.6" fill="#000"/>
<circle cx="1670.35" cy="366.7" r="47.6" fill="#fff" stroke="#000" stroke-width="3.2"/>
<path d="M1707.95,363.70L1718.35,363.70M1707.95,369.70L1718.35,369.70M1706.24,378.32L1715.84,382.30M1703.94,383.86L1713.55,387.84M1699.06,391.17L1706.41,398.52M1694.82,395.41L1702.17,402.76M1687.51,400.29L1691.49,409.90M1681.97,402.59L1685.95,412.19M1673.35,404.30L1673.35,414.70M1667.35,404.30L1667.35,414.70M1658.73,402.59L1654.75,412.19M1653.19,400.29L1649.21,409.90M1645.88,395.41L1638.53,402.76M1641.64,391.17L1634.29,398.52M1636.76,383.86L1627.15,387.84M1634.46,378.32L1624.86,382.30M1632.75,369.70L1622.35,369.70M1632.75,363.70L1622.35,363.70M1634.46,355.08L1624.86,351.10M1636.76,349.54L1627.15,345.56M1641.64,342.23L1634.29,334.88M1645.88,337.99L1638.53,330.64M1653.19,333.11L1649.21,323.50M1658.73,330.81L1654.75,321.21M1667.35,329.10L1667.35,318.70M1673.35,329.10L1673.35,318.70M1681.97,330.81L1685.95,321.21M1687.51,333.11L1691.49,323.50M1694.82,337.99L1702.17,330.64M1699.06,342.23L1706.41,334.88M1703.94,349.54L1713.55,345.56M1706.24,355.08L1715.84,351.10" stroke="#000" stroke-width="1.8" fill="none"/>
<circle cx="1670.35" cy="366.7" r="37.6" fill="#fff" stroke="#000" stroke-width="2.0"/>
<circle cx="1670.35" cy="366.7" r="26.3" fill="#fff" stroke="#000" stroke-width="2.2"/>
<circle cx="1670.35" cy="366.7" r="14.5" fill="#000"/>
<circle cx="1544.05" cy="278" r="13.8" fill="#000"/>
<rect x="1533.85" y="275.9" width="20.4" height="4.2" fill="#fff"/><rect x="1541.95" y="267.8" width="4.2" height="20.4" fill="#fff"/>
<circle cx="1670.35" cy="278" r="13.8" fill="#000"/>
<rect x="1659.35" y="275.7" width="22" height="4.6" fill="#fff"/>
<rect x="1601.65" y="435.5" width="12.7" height="180" fill="#000"/>
<path d="M1797.85,398.10 A70.0,70.0 0 0 0 1921.85,398.10 L1909.85,371.80 A50.0,50.0 0 0 1 1809.85,371.80 Z" fill="#000"/>
<path d="M1859.85,432.90 A67.3,67.3 0 0 1 1799.85,396.08 L1806.65,371.80 A53.2,53.2 0 0 0 1859.85,425.00 Z" fill="#fff"/>
<rect x="1783.1000000000001" y="297" width="27.2" height="140" rx="13.6" fill="#000"/>
<circle cx="1796.7" cy="366.7" r="47.6" fill="#e3321f" stroke="#000" stroke-width="3.2"/>
<path d="M1834.30,363.70L1844.70,363.70M1834.30,369.70L1844.70,369.70M1832.59,378.32L1842.19,382.30M1830.29,383.86L1839.90,387.84M1825.41,391.17L1832.76,398.52M1821.17,395.41L1828.52,402.76M1813.86,400.29L1817.84,409.90M1808.32,402.59L1812.30,412.19M1799.70,404.30L1799.70,414.70M1793.70,404.30L1793.70,414.70M1785.08,402.59L1781.10,412.19M1779.54,400.29L1775.56,409.90M1772.23,395.41L1764.88,402.76M1767.99,391.17L1760.64,398.52M1763.11,383.86L1753.50,387.84M1760.81,378.32L1751.21,382.30M1759.10,369.70L1748.70,369.70M1759.10,363.70L1748.70,363.70M1760.81,355.08L1751.21,351.10M1763.11,349.54L1753.50,345.56M1767.99,342.23L1760.64,334.88M1772.23,337.99L1764.88,330.64M1779.54,333.11L1775.56,323.50M1785.08,330.81L1781.10,321.21M1793.70,329.10L1793.70,318.70M1799.70,329.10L1799.70,318.70M1808.32,330.81L1812.30,321.21M1813.86,333.11L1817.84,323.50M1821.17,337.99L1828.52,330.64M1825.41,342.23L1832.76,334.88M1830.29,349.54L1839.90,345.56M1832.59,355.08L1842.19,351.10" stroke="#000" stroke-width="1.8" fill="none"/>
<circle cx="1796.7" cy="366.7" r="37.6" fill="#e3321f" stroke="#000" stroke-width="2.0"/>
<circle cx="1796.7" cy="366.7" r="26.3" fill="#fff" stroke="#000" stroke-width="2.2"/>
<circle cx="1796.7" cy="366.7" r="14.5" fill="#000"/>
<rect x="1909.4" y="297" width="27.2" height="140" rx="13.6" fill="#000"/>
<circle cx="1923.0" cy="366.7" r="47.6" fill="#fff" stroke="#000" stroke-width="3.2"/>
<path d="M1960.60,363.70L1971.00,363.70M1960.60,369.70L1971.00,369.70M1958.89,378.32L1968.49,382.30M1956.59,383.86L1966.20,387.84M1951.71,391.17L1959.06,398.52M1947.47,395.41L1954.82,402.76M1940.16,400.29L1944.14,409.90M1934.62,402.59L1938.60,412.19M1926.00,404.30L1926.00,414.70M1920.00,404.30L1920.00,414.70M1911.38,402.59L1907.40,412.19M1905.84,400.29L1901.86,409.90M1898.53,395.41L1891.18,402.76M1894.29,391.17L1886.94,398.52M1889.41,383.86L1879.80,387.84M1887.11,378.32L1877.51,382.30M1885.40,369.70L1875.00,369.70M1885.40,363.70L1875.00,363.70M1887.11,355.08L1877.51,351.10M1889.41,349.54L1879.80,345.56M1894.29,342.23L1886.94,334.88M1898.53,337.99L1891.18,330.64M1905.84,333.11L1901.86,323.50M1911.38,330.81L1907.40,321.21M1920.00,329.10L1920.00,318.70M1926.00,329.10L1926.00,318.70M1934.62,330.81L1938.60,321.21M1940.16,333.11L1944.14,323.50M1947.47,337.99L1954.82,330.64M1951.71,342.23L1959.06,334.88M1956.59,349.54L1966.20,345.56M1958.89,355.08L1968.49,351.10" stroke="#000" stroke-width="1.8" fill="none"/>
<circle cx="1923.0" cy="366.7" r="37.6" fill="#fff" stroke="#000" stroke-width="2.0"/>
<circle cx="1923.0" cy="366.7" r="26.3" fill="#fff" stroke="#000" stroke-width="2.2"/>
<circle cx="1923.0" cy="366.7" r="14.5" fill="#000"/>
<circle cx="1796.7" cy="278" r="13.8" fill="#000"/>
<rect x="1786.5" y="275.9" width="20.4" height="4.2" fill="#fff"/><rect x="1794.6000000000001" y="267.8" width="4.2" height="20.4" fill="#fff"/>
<circle cx="1923.0" cy="278" r="13.8" fill="#000"/>
<rect x="1912.0" y="275.7" width="22" height="4.6" fill="#fff"/>
<rect x="1855.8500000000001" y="435.5" width="12.7" height="180" fill="#000"/>
<rect x="282.2" y="614.2" width="124" height="199.8" fill="#fff" stroke="#000" stroke-width="6"/>
<circle cx="343.8" cy="661.3" r="21.8" fill="none" stroke="#000" stroke-width="2.9"/>
<circle cx="343.8" cy="661.3" r="11.2" fill="none" stroke="#000" stroke-width="2.8"/>
<path d="M323.18,710.50 H365.22 A7.0,7.0 0 0 1 368.86,711.52 A47.4,47.4 0 0 1 384.68,727.34 A7.0,7.0 0 0 1 385.70,730.98 V773.02 A7.0,7.0 0 0 1 384.68,776.66 A47.4,47.4 0 0 1 368.86,792.48 A7.0,7.0 0 0 1 365.22,793.50 H323.18 A7.0,7.0 0 0 1 319.54,792.48 A47.4,47.4 0 0 1 303.72,776.66 A7.0,7.0 0 0 1 302.70,773.02 V730.98 A7.0,7.0 0 0 1 303.72,727.34 A47.4,47.4 0 0 1 319.54,711.52 A7.0,7.0 0 0 1 323.18,710.50 Z" fill="none" stroke="#000" stroke-width="2.9"/>
<circle cx="344.2" cy="751.9" r="34.9" fill="none" stroke="#000" stroke-width="3.0"/>
<circle cx="344.2" cy="751.8" r="11.5" fill="none" stroke="#000" stroke-width="2.9"/>
<rect x="534.0" y="614.2" width="124" height="199.8" fill="#fff" stroke="#000" stroke-width="6"/>
<circle cx="595.6" cy="661.3" r="21.8" fill="none" stroke="#000" stroke-width="2.9"/>
<circle cx="595.6" cy="661.3" r="11.2" fill="none" stroke="#000" stroke-width="2.8"/>
<path d="M574.98,710.50 H617.02 A7.0,7.0 0 0 1 620.66,711.52 A47.4,47.4 0 0 1 636.48,727.34 A7.0,7.0 0 0 1 637.50,730.98 V773.02 A7.0,7.0 0 0 1 636.48,776.66 A47.4,47.4 0 0 1 620.66,792.48 A7.0,7.0 0 0 1 617.02,793.50 H574.98 A7.0,7.0 0 0 1 571.34,792.48 A47.4,47.4 0 0 1 555.52,776.66 A7.0,7.0 0 0 1 554.50,773.02 V730.98 A7.0,7.0 0 0 1 555.52,727.34 A47.4,47.4 0 0 1 571.34,711.52 A7.0,7.0 0 0 1 574.98,710.50 Z" fill="none" stroke="#000" stroke-width="2.9"/>
<circle cx="596.0" cy="751.9" r="34.9" fill="none" stroke="#000" stroke-width="3.0"/>
<circle cx="596.0" cy="751.8" r="11.5" fill="none" stroke="#000" stroke-width="2.9"/>
<rect x="788.05" y="614.2" width="124" height="199.8" fill="#fff" stroke="#000" stroke-width="6"/>
<circle cx="849.65" cy="661.3" r="21.8" fill="none" stroke="#000" stroke-width="2.9"/>
<circle cx="849.65" cy="661.3" r="11.2" fill="none" stroke="#000" stroke-width="2.8"/>
<path d="M829.03,710.50 H871.07 A7.0,7.0 0 0 1 874.71,711.52 A47.4,47.4 0 0 1 890.53,727.34 A7.0,7.0 0 0 1 891.55,730.98 V773.02 A7.0,7.0 0 0 1 890.53,776.66 A47.4,47.4 0 0 1 874.71,792.48 A7.0,7.0 0 0 1 871.07,793.50 H829.03 A7.0,7.0 0 0 1 825.39,792.48 A47.4,47.4 0 0 1 809.57,776.66 A7.0,7.0 0 0 1 808.55,773.02 V730.98 A7.0,7.0 0 0 1 809.57,727.34 A47.4,47.4 0 0 1 825.39,711.52 A7.0,7.0 0 0 1 829.03,710.50 Z" fill="none" stroke="#000" stroke-width="2.9"/>
<circle cx="850.05" cy="751.9" r="34.9" fill="none" stroke="#000" stroke-width="3.0"/>
<circle cx="850.05" cy="751.8" r="11.5" fill="none" stroke="#000" stroke-width="2.9"/>
<rect x="1041.0" y="614.2" width="124" height="199.8" fill="#fff" stroke="#000" stroke-width="6"/>
<circle cx="1102.6" cy="661.3" r="21.8" fill="none" stroke="#000" stroke-width="2.9"/>
<circle cx="1102.6" cy="661.3" r="11.2" fill="none" stroke="#000" stroke-width="2.8"/>
<path d="M1081.98,710.50 H1124.02 A7.0,7.0 0 0 1 1127.66,711.52 A47.4,47.4 0 0 1 1143.48,727.34 A7.0,7.0 0 0 1 1144.50,730.98 V773.02 A7.0,7.0 0 0 1 1143.48,776.66 A47.4,47.4 0 0 1 1127.66,792.48 A7.0,7.0 0 0 1 1124.02,793.50 H1081.98 A7.0,7.0 0 0 1 1078.34,792.48 A47.4,47.4 0 0 1 1062.52,776.66 A7.0,7.0 0 0 1 1061.50,773.02 V730.98 A7.0,7.0 0 0 1 1062.52,727.34 A47.4,47.4 0 0 1 1078.34,711.52 A7.0,7.0 0 0 1 1081.98,710.50 Z" fill="none" stroke="#000" stroke-width="2.9"/>
<circle cx="1103.0" cy="751.9" r="34.9" fill="none" stroke="#000" stroke-width="3.0"/>
<circle cx="1103.0" cy="751.8" r="11.5" fill="none" stroke="#000" stroke-width="2.9"/>
<rect x="1293.05" y="614.2" width="124" height="199.8" fill="#fff" stroke="#000" stroke-width="6"/>
<circle cx="1354.6499999999999" cy="661.3" r="21.8" fill="none" stroke="#000" stroke-width="2.9"/>
<circle cx="1354.6499999999999" cy="661.3" r="11.2" fill="none" stroke="#000" stroke-width="2.8"/>
<path d="M1334.03,710.50 H1376.07 A7.0,7.0 0 0 1 1379.71,711.52 A47.4,47.4 0 0 1 1395.53,727.34 A7.0,7.0 0 0 1 1396.55,730.98 V773.02 A7.0,7.0 0 0 1 1395.53,776.66 A47.4,47.4 0 0 1 1379.71,792.48 A7.0,7.0 0 0 1 1376.07,793.50 H1334.03 A7.0,7.0 0 0 1 1330.39,792.48 A47.4,47.4 0 0 1 1314.57,776.66 A7.0,7.0 0 0 1 1313.55,773.02 V730.98 A7.0,7.0 0 0 1 1314.57,727.34 A47.4,47.4 0 0 1 1330.39,711.52 A7.0,7.0 0 0 1 1334.03,710.50 Z" fill="none" stroke="#000" stroke-width="2.9"/>
<circle cx="1355.05" cy="751.9" r="34.9" fill="none" stroke="#000" stroke-width="3.0"/>
<circle cx="1355.05" cy="751.8" r="11.5" fill="none" stroke="#000" stroke-width="2.9"/>
<rect x="1546.0" y="614.2" width="124" height="199.8" fill="#84d0d0" stroke="#000" stroke-width="6"/>
<circle cx="1607.6" cy="661.3" r="21.8" fill="none" stroke="#000" stroke-width="2.9"/>
<circle cx="1607.6" cy="661.3" r="11.2" fill="none" stroke="#000" stroke-width="2.8"/>
<path d="M1586.98,710.50 H1629.02 A7.0,7.0 0 0 1 1632.66,711.52 A47.4,47.4 0 0 1 1648.48,727.34 A7.0,7.0 0 0 1 1649.50,730.98 V773.02 A7.0,7.0 0 0 1 1648.48,776.66 A47.4,47.4 0 0 1 1632.66,792.48 A7.0,7.0 0 0 1 1629.02,793.50 H1586.98 A7.0,7.0 0 0 1 1583.34,792.48 A47.4,47.4 0 0 1 1567.52,776.66 A7.0,7.0 0 0 1 1566.50,773.02 V730.98 A7.0,7.0 0 0 1 1567.52,727.34 A47.4,47.4 0 0 1 1583.34,711.52 A7.0,7.0 0 0 1 1586.98,710.50 Z" fill="none" stroke="#000" stroke-width="2.9"/>
<circle cx="1608.0" cy="751.9" r="34.9" fill="none" stroke="#000" stroke-width="3.0"/>
<circle cx="1608.0" cy="751.8" r="11.5" fill="none" stroke="#000" stroke-width="2.9"/>
<rect x="1800.0" y="614.2" width="124" height="199.8" fill="#84d0d0" stroke="#000" stroke-width="6"/>
<circle cx="1861.6" cy="661.3" r="21.8" fill="none" stroke="#000" stroke-width="2.9"/>
<circle cx="1861.6" cy="661.3" r="11.2" fill="none" stroke="#000" stroke-width="2.8"/>
<path d="M1840.98,710.50 H1883.02 A7.0,7.0 0 0 1 1886.66,711.52 A47.4,47.4 0 0 1 1902.48,727.34 A7.0,7.0 0 0 1 1903.50,730.98 V773.02 A7.0,7.0 0 0 1 1902.48,776.66 A47.4,47.4 0 0 1 1886.66,792.48 A7.0,7.0 0 0 1 1883.02,793.50 H1840.98 A7.0,7.0 0 0 1 1837.34,792.48 A47.4,47.4 0 0 1 1821.52,776.66 A7.0,7.0 0 0 1 1820.50,773.02 V730.98 A7.0,7.0 0 0 1 1821.52,727.34 A47.4,47.4 0 0 1 1837.34,711.52 A7.0,7.0 0 0 1 1840.98,710.50 Z" fill="none" stroke="#000" stroke-width="2.9"/>
<circle cx="1862.0" cy="751.9" r="34.9" fill="none" stroke="#000" stroke-width="3.0"/>
<circle cx="1862.0" cy="751.8" r="11.5" fill="none" stroke="#000" stroke-width="2.9"/>
<path d="M36.5,619.5 H158.5 L193,665 V814 H2.5 V665 Z" fill="#fff" stroke="#000" stroke-width="5" stroke-linejoin="miter"/>
<line x1="15" y1="654.5" x2="180" y2="654.5" stroke="#000" stroke-width="1.8"/>
<line x1="2.5" y1="665.5" x2="193" y2="665.5" stroke="#000" stroke-width="4.5"/>
<line x1="6" y1="671" x2="189" y2="671" stroke="#000" stroke-width="1.5"/>
<line x1="6.6" y1="670" x2="6.6" y2="795" stroke="#000" stroke-width="1.6"/>
<line x1="187.2" y1="670" x2="187.2" y2="795" stroke="#000" stroke-width="1.6"/>
<line x1="2.5" y1="795.7" x2="193" y2="795.7" stroke="#000" stroke-width="3.8"/>
<line x1="2.5" y1="800.9" x2="193" y2="800.9" stroke="#000" stroke-width="1.9"/>
<path d="M20.6,800.2 L22,803.7 H41.5 L42.7,800.2 Z" fill="#c0c0c0" stroke="#000" stroke-width="2.2" stroke-linejoin="round"/>
<path d="M151.2,800.2 L152.5,803.7 H172.8 L174.2,800.2 Z" fill="#c0c0c0" stroke="#000" stroke-width="2.2" stroke-linejoin="round"/>
<text x="51.32" y="902.70" font-size="57.39" fill="#000" stroke="#000" stroke-width="0.6" stroke-linejoin="round" textLength="90.96" lengthAdjust="spacingAndGlyphs" font-family="Liberation Sans, sans-serif" font-weight="bold">SW</text>
<text x="309.83" y="902.70" font-size="57.83" fill="#000" stroke="#000" stroke-width="0.6" stroke-linejoin="round" textLength="67.64" lengthAdjust="spacingAndGlyphs" font-family="Liberation Sans, sans-serif" font-weight="bold">FR</text>
<text x="565.90" y="902.70" font-size="57.83" fill="#000" stroke="#000" stroke-width="0.6" stroke-linejoin="round" textLength="60.65" lengthAdjust="spacingAndGlyphs" font-family="Liberation Sans, sans-serif" font-weight="bold">FL</text>
<text x="829.50" y="902.70" font-size="57.83" fill="#000" stroke="#000" stroke-width="0.6" stroke-linejoin="round" textLength="36.97" lengthAdjust="spacingAndGlyphs" font-family="Liberation Sans, sans-serif" font-weight="bold">C</text>
<text x="1068.87" y="902.70" font-size="57.83" fill="#000" stroke="#000" stroke-width="0.6" stroke-linejoin="round" textLength="73.64" lengthAdjust="spacingAndGlyphs" font-family="Liberation Sans, sans-serif" font-weight="bold">SR</text>
<text x="1326.06" y="902.70" font-size="57.83" fill="#000" stroke="#000" stroke-width="0.6" stroke-linejoin="round" textLength="68.76" lengthAdjust="spacingAndGlyphs" font-family="Liberation Sans, sans-serif" font-weight="bold">SL</text>
<rect x="1523.6" y="838.7" width="177.9000000000001" height="80" fill="#84d0d0" stroke="#000" stroke-width="7"/>
<rect x="1778.4" y="838.7" width="177.79999999999995" height="80" fill="#84d0d0" stroke="#000" stroke-width="7"/>
<text x="1558.42" y="901.90" font-size="57.97" fill="#000" stroke="#000" stroke-width="0.6" stroke-linejoin="round" textLength="107.98" lengthAdjust="spacingAndGlyphs" font-family="Liberation Sans, sans-serif" font-weight="bold">FHR</text>
<text x="1816.10" y="901.90" font-size="57.97" fill="#000" stroke="#000" stroke-width="0.6" stroke-linejoin="round" textLength="102.50" lengthAdjust="spacingAndGlyphs" font-family="Liberation Sans, sans-serif" font-weight="bold">FHL</text>
</svg>
</body></html>
